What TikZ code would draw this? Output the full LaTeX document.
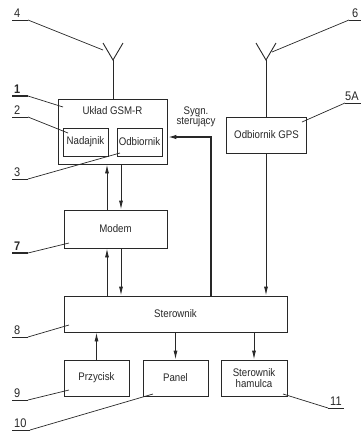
\documentclass[tikz,border=0pt]{standalone}
\usepackage{fontspec}
\setmainfont[FakeStretch=0.88]{Liberation Sans}
\usetikzlibrary{arrows.meta}
\definecolor{ink}{RGB}{40,40,40}
\begin{document}
\begin{tikzpicture}[x=1pt,y=-1pt,
  every node/.style={font=\fontsize{11}{12}\selectfont, text=ink},
  box/.style={draw=ink, line width=0.9pt, rectangle, inner sep=0pt, align=center},
  ln/.style={draw=ink, line width=0.9pt},
  arr/.style={ln, -{Latex[length=9pt,width=4pt]}},
  lead/.style={draw=ink, line width=0.7pt},
  ul/.style={draw=ink, line width=0.9pt},
  ulb/.style={draw=ink, line width=1.8pt},
  num/.style={anchor=south west, inner sep=0pt, font=\fontsize{12.5}{13}\selectfont},
  numb/.style={num, font=\fontsize{12.5}{13}\selectfont\bfseries}]
\useasboundingbox[fill=white] (0,0) rectangle (360,432);

% boxes
\node[box, minimum width=109pt, minimum height=65pt] (gsm) at (112.5,131.5) {};
\node (gsmt) at (112.5,111) {Układ GSM-R};
\node[box, minimum width=45pt, minimum height=28pt] (nad) at (85.5,142) {Nadajnik};
\node[box, minimum width=45pt, minimum height=28pt] (odb) at (139.5,142) {Odbiornik};
\node[box, minimum width=103pt, minimum height=38pt] (modem) at (115.5,229) {Modem};
\node[box, minimum width=80pt, minimum height=36pt] (gps) at (266.5,135) {Odbiornik GPS};
\node[box, minimum width=223pt, minimum height=36pt] (ster) at (175.5,314) {Sterownik};
\node[box, minimum width=65pt, minimum height=36pt] (prz) at (96.5,378) {Przycisk};
\node[box, minimum width=65pt, minimum height=36pt] (pan) at (175.5,378) {Panel};
\node[box, minimum width=66pt, minimum height=36pt] (ham) at (254,378) {Sterownik\\[-1pt]hamulca};
\node[align=center, inner sep=0pt] (sygn) at (196,116.5) {Sygn.\\[-2pt]sterujący};

% antennas
\coordinate (a1) at (113,60);
\coordinate (a1l) at (103,43);
\coordinate (a1r) at (123,43);
\draw[ln] (a1l) -- (a1) -- (a1r);
\draw[ln] (a1) -- (a1 |- gsm.north);
\coordinate (a2) at (266,60);
\coordinate (a2l) at (256,43);
\coordinate (a2r) at (276,43);
\draw[ln] (a2l) -- (a2) -- (a2r);
\draw[ln] (a2) -- (a2 |- gps.north);

% arrows
\coordinate (xu) at (107,0);
\coordinate (xd) at (121,0);
\draw[arr] (xu |- modem.north) -- (xu |- gsm.south);
\draw[arr] (xd |- gsm.south) -- (xd |- modem.north);
\draw[arr] (xu |- ster.north) -- (xu |- modem.south);
\draw[arr] (xd |- modem.south) -- (xd |- ster.north);
\draw[arr] (prz.north) -- (prz.north |- ster.south);
\draw[arr] (pan.north |- ster.south) -- (pan.north);
\draw[arr] (ham.north |- ster.south) -- (ham.north);
\draw[arr] (a2 |- gps.south) -- (a2 |- ster.north);
\coordinate (sx) at (211,137);
\draw[ln, line width=1.6pt, -{Latex[length=9pt,width=4.5pt]}] (sx |- ster.north) -- (sx) -- (sx -| gsm.east);

% labels
\node[num] (n4) at (14,18) {4};
\draw[ul] (12,20) -- (28,20); \draw[lead] (28,20) -- (103,50);

\node[num] (n6) at (352,18) {6};
\draw[ul] (349,20) -- (362,20); \draw[lead] (349,20) -- (272,52);

\node[numb] (n1) at (14,94) {1};
\draw[ulb] (12,96) -- (28,96); \draw[lead] (28,96) -- (63,107);

\node[num] (n2) at (14,115) {2};
\draw[ul] (12,117) -- (28,117); \draw[lead] (28,117) -- (68,133);

\node[num] (n3) at (14,177) {3};
\draw[ul] (12,179) -- (28,179); \draw[lead] (28,179) -- (120,153);

\node[num] (n5) at (345,101) {5A};
\draw[ul] (345,103) -- (362,103); \draw[lead] (345,103) -- (302,122);

\node[numb] (n7) at (14,251) {7};
\draw[ulb] (12,253) -- (28,253); \draw[lead] (28,253) -- (69,243);

\node[num] (n8) at (14,335) {8};
\draw[ul] (12,337) -- (28,337); \draw[lead] (28,337) -- (69,325);

\node[num] (n9) at (14,398) {9};
\draw[ul] (12,400) -- (28,400); \draw[lead] (28,400) -- (69,390);

\node[num] (n10) at (14,428) {10};
\draw[ul] (12,430) -- (30,430); \draw[lead] (30,430) -- (153,394);

\node[num] (n11) at (330,406) {11};
\draw[ul] (328,408) -- (344,408); \draw[lead] (328,408) -- (283,394);
\end{tikzpicture}
\end{document}
